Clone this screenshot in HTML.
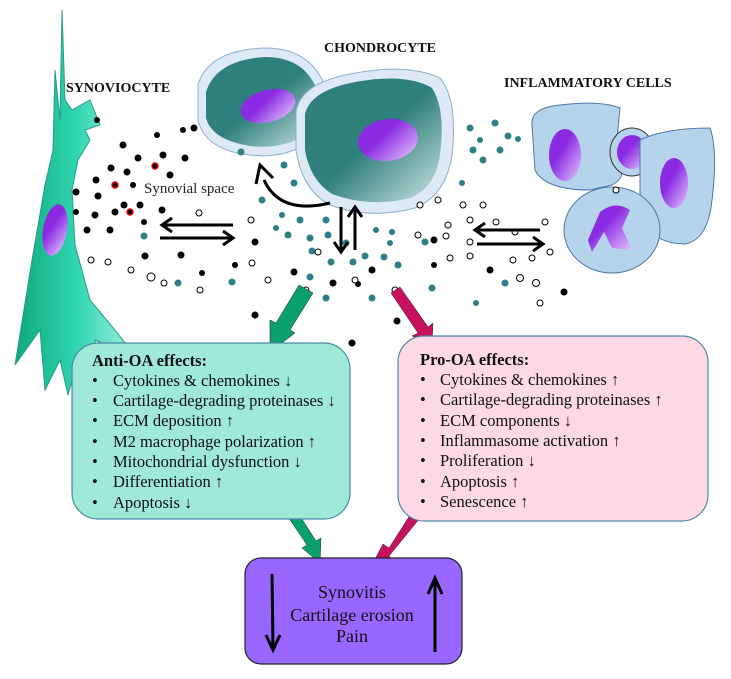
<!DOCTYPE html>
<html><head><meta charset="utf-8"><style>
html,body{margin:0;padding:0;background:#fff;}
svg{display:block;font-family:"Liberation Serif",serif;}
</style></head><body>
<svg width="731" height="679" viewBox="0 0 731 679" xmlns="http://www.w3.org/2000/svg">
<defs>
<linearGradient id="syn" x1="0" y1="0" x2="1" y2="0"><stop offset="0" stop-color="#0fa878"/><stop offset="0.5" stop-color="#2fd6b0"/><stop offset="1" stop-color="#a8f0e2"/></linearGradient>
<linearGradient id="teal" x1="0" y1="0" x2="1" y2="1"><stop offset="0.5" stop-color="#2f7f7c"/><stop offset="1" stop-color="#cfe6e4"/></linearGradient>
<linearGradient id="nuc" x1="0" y1="0" x2="1" y2="1"><stop offset="0.4" stop-color="#8a2be2"/><stop offset="1" stop-color="#e6c8ff"/></linearGradient>
</defs>
<!-- synoviocyte -->
<path d="M62 10 L60 120 L55 70 L53 150 L45 185 L32 260 L15 365 L40 330 L45 390 L60 360 L68 395 L78 360 L100 392 L95 340 L138 360 L115 330 L90 300 L75 245 L72 190 L78 160 L90 140 L85 130 L100 125 L90 100 L72 110 L65 100 Z" fill="url(#syn)" stroke="#2a9a8a" stroke-width="1"/>
<ellipse cx="55" cy="230" rx="12" ry="26" fill="url(#nuc)" transform="rotate(10 55 230)"/>
<!-- chondrocytes -->
<path d="M198 85 Q208 50 265 48 Q315 48 328 95 L318 135 Q290 160 250 155 Q205 150 198 120 Z" fill="#dde9f5" stroke="#8ab0d0"/>
<path d="M206 92 Q216 60 265 57 Q310 57 320 100 L310 132 Q285 150 250 146 Q212 140 206 118 Z" fill="url(#teal)"/>
<ellipse cx="268" cy="106" rx="28" ry="16" fill="url(#nuc)" transform="rotate(-15 268 106)"/>
<path d="M296 112 Q300 85 345 75 Q405 62 440 78 Q458 100 452 155 Q446 195 415 208 Q370 220 330 205 Q302 190 296 150 Z" fill="#dde9f5" stroke="#8ab0d0"/>
<path d="M305 114 Q310 92 350 83 Q405 72 432 88 Q446 110 440 155 Q435 188 410 198 Q370 208 332 194 Q310 180 305 150 Z" fill="url(#teal)"/>
<ellipse cx="388" cy="140" rx="30" ry="21" fill="url(#nuc)" transform="rotate(-8 388 140)"/>
<!-- inflammatory cells -->
<path d="M532 125 Q530 108 560 105 Q600 100 620 108 L615 160 Q630 175 612 185 L590 190 Q545 190 535 170 Z" fill="#b5d4ec" stroke="#4a78a8"/>
<ellipse cx="565" cy="155" rx="16" ry="26" fill="url(#nuc)"/>
<ellipse cx="632" cy="152" rx="22" ry="24" fill="#b5d4ec" stroke="#333"/>
<ellipse cx="632" cy="152" rx="15" ry="17" fill="url(#nuc)"/>
<path d="M640 140 Q665 128 710 128 Q718 150 712 200 Q708 240 685 244 Q655 244 640 220 Z" fill="#b5d4ec" stroke="#4a78a8"/>
<ellipse cx="674" cy="183" rx="14" ry="25" fill="url(#nuc)"/>
<ellipse cx="612" cy="230" rx="48" ry="43" fill="#b5d4ec" stroke="#4a78a8"/>
<path d="M600 212 Q615 200 630 210 L622 228 L632 250 L612 248 L604 232 L592 252 L588 240 Z" fill="url(#nuc)"/>
<!-- particles -->
<g fill="#000">
<circle cx="97" cy="120" r="3"/><circle cx="124" cy="205" r="3.5"/><circle cx="140" cy="205" r="3.5"/><circle cx="157" cy="135" r="3"/><circle cx="183" cy="130" r="3"/><circle cx="194" cy="128" r="3.5"/><circle cx="123" cy="145" r="3.5"/><circle cx="138" cy="158" r="3.5"/><circle cx="163" cy="155" r="3.5"/><circle cx="185" cy="158" r="3.5"/><circle cx="111" cy="168" r="3.5"/><circle cx="127" cy="172" r="3.5"/><circle cx="170" cy="175" r="3.5"/><circle cx="96" cy="180" r="3.5"/><circle cx="98" cy="196" r="3.5"/><circle cx="133" cy="185" r="3"/><circle cx="76" cy="192" r="3.5"/><circle cx="76" cy="212" r="3"/><circle cx="95" cy="215" r="3.5"/><circle cx="115" cy="212" r="3.5"/><circle cx="162" cy="210" r="3.5"/><circle cx="87" cy="230" r="3.5"/><circle cx="110" cy="230" r="3.5"/><circle cx="144" cy="222" r="3"/><circle cx="145" cy="256" r="3.5"/><circle cx="181" cy="255" r="3.5"/><circle cx="235" cy="265" r="3"/><circle cx="202" cy="273" r="3"/><circle cx="255" cy="242" r="3.5"/><circle cx="294" cy="272" r="3.5"/><circle cx="333" cy="283" r="3.5"/><circle cx="372" cy="270" r="3.5"/><circle cx="434" cy="265" r="3"/><circle cx="434" cy="240" r="3.5"/><circle cx="490" cy="270" r="3.5"/><circle cx="564" cy="292" r="3.5"/><circle cx="255" cy="315" r="3.5"/><circle cx="358" cy="284" r="3"/><circle cx="397" cy="321" r="3.5"/><circle cx="352" cy="343" r="3.5"/>
</g>
<g fill="#000" stroke="#e00" stroke-width="1.5"><circle cx="155" cy="166" r="3"/><circle cx="115" cy="185" r="3"/><circle cx="130" cy="212" r="3"/></g>
<g fill="#2f7f8a">
<circle cx="241" cy="152" r="3.5"/><circle cx="284" cy="165" r="3.5"/><circle cx="294" cy="183" r="3.5"/><circle cx="262" cy="200" r="3.5"/><circle cx="282" cy="215" r="3"/><circle cx="300" cy="220" r="3.5"/><circle cx="326" cy="220" r="3.5"/><circle cx="144" cy="236" r="3.5"/><circle cx="276" cy="228" r="3"/><circle cx="288" cy="235" r="3.5"/><circle cx="310" cy="238" r="3.5"/><circle cx="328" cy="235" r="3.5"/><circle cx="346" cy="243" r="3.5"/><circle cx="312" cy="251" r="3.5"/><circle cx="331" cy="262" r="3.5"/><circle cx="353" cy="262" r="3.5"/><circle cx="365" cy="256" r="3.5"/><circle cx="384" cy="257" r="3.5"/><circle cx="398" cy="265" r="3.5"/><circle cx="372" cy="298" r="3.5"/><circle cx="326" cy="298" r="3.5"/><circle cx="178" cy="283" r="3.5"/><circle cx="232" cy="282" r="3.5"/><circle cx="310" cy="277" r="3.5"/><circle cx="376" cy="230" r="3"/><circle cx="392" cy="232" r="3"/><circle cx="390" cy="243" r="3"/><circle cx="462" cy="183" r="3"/><circle cx="470" cy="128" r="3.5"/><circle cx="480" cy="140" r="3"/><circle cx="495" cy="123" r="3.5"/><circle cx="508" cy="136" r="3.5"/><circle cx="518" cy="139" r="3"/><circle cx="473" cy="150" r="3.5"/><circle cx="500" cy="150" r="3.5"/><circle cx="483" cy="160" r="3.5"/><circle cx="425" cy="242" r="3.5"/><circle cx="432" cy="288" r="3.5"/><circle cx="505" cy="283" r="3.5"/><circle cx="476" cy="303" r="3"/>
</g>
<g fill="#fff" stroke="#000" stroke-width="1">
<circle cx="91" cy="260" r="3"/><circle cx="108" cy="262" r="3"/><circle cx="131" cy="270" r="3"/><circle cx="151" cy="277" r="4"/><circle cx="199" cy="213" r="3"/><circle cx="251" cy="220" r="3"/><circle cx="164" cy="283" r="3"/><circle cx="200" cy="290" r="3"/><circle cx="252" cy="263" r="3"/><circle cx="268" cy="280" r="3"/><circle cx="318" cy="252" r="3"/><circle cx="355" cy="280" r="3"/><circle cx="306" cy="290" r="3"/><circle cx="395" cy="290" r="3"/><circle cx="420" cy="205" r="3"/><circle cx="438" cy="200" r="3"/><circle cx="463" cy="205" r="3"/><circle cx="483" cy="205" r="3"/><circle cx="448" cy="225" r="3"/><circle cx="470" cy="220" r="3"/><circle cx="496" cy="222" r="3"/><circle cx="515" cy="232" r="3"/><circle cx="545" cy="222" r="3"/><circle cx="513" cy="260" r="3"/><circle cx="450" cy="258" r="3"/><circle cx="470" cy="256" r="3"/><circle cx="470" cy="242" r="3"/><circle cx="418" cy="235" r="3"/><circle cx="446" cy="236" r="3"/><circle cx="532" cy="258" r="3"/><circle cx="550" cy="252" r="3"/><circle cx="520" cy="278" r="3.5"/><circle cx="536" cy="283" r="3.5"/><circle cx="540" cy="303" r="3"/><circle cx="616" cy="190" r="3"/>
</g>
<!-- text labels -->
<g font-weight="bold" font-size="14" fill="#111">
<text x="324" y="52">CHONDROCYTE</text>
<text x="66" y="92">SYNOVIOCYTE</text>
<text x="504" y="87">INFLAMMATORY CELLS</text>
</g>
<text x="144" y="193" font-size="15" fill="#222">Synovial space</text>
<!-- black arrows -->
<g stroke="#000" stroke-width="3" fill="none">
<path d="M233 225 L165 225 M172 218 L162 225 L172 232"/>
<path d="M160 238 L230 238 M223 231 L233 238 L223 245"/>
<path d="M540 230 L478 230 M485 223 L475 230 L485 237"/>
<path d="M477 244 L540 244 M533 237 L543 244 L533 251"/>
<path d="M341 207 L341 250 M334 242 L341 252 L348 242"/>
<path d="M355 250 L355 209 M348 217 L355 207 L362 217"/>
<path d="M330 203 Q280 215 264 180 M256 184 L260 165 L273 178"/>
</g>
<!-- colored arrows -->
<path d="M313 293 L290 330 L295 333 L270 352 L270 320 L276 323 L299 285 Z" fill="#0aa06e" stroke="#222" stroke-width="0.5"/>
<path d="M400 287 L428 327 L433 323 L432 343 L412 336 L418 333 L391 293 Z" fill="#c8105e" stroke="#222" stroke-width="0.5"/>
<path d="M282 508 L307 545 L302 548 L320 563 L321 538 L316 541 L291 502 Z" fill="#0aa06e" stroke="#222" stroke-width="0.5"/>
<path d="M412 512 L389 548 L383 544 L371 567 L393 560 L389 556 L420 518 Z" fill="#c8105e" stroke="#222" stroke-width="0.5"/>
<!-- boxes -->
<rect x="72" y="343" width="278" height="176" rx="26" fill="#a0e8d8" stroke="#4a88a8" stroke-width="1.2"/>
<rect x="398" y="336" width="310" height="185" rx="26" fill="#fcd9e4" stroke="#4a88a8" stroke-width="1.2"/>
<rect x="245" y="558" width="217" height="106" rx="16" fill="#9966ff" stroke="#222" stroke-width="1.2"/>
<g font-size="16.5" fill="#111">
<text x="92" y="366" font-weight="bold">Anti-OA effects:</text>
<text x="92" y="386">•<tspan x="113">Cytokines &amp; chemokines ↓</tspan></text>
<text x="92" y="406">•<tspan x="113">Cartilage-degrading proteinases ↓</tspan></text>
<text x="92" y="426">•<tspan x="113">ECM deposition ↑</tspan></text>
<text x="92" y="447">•<tspan x="113">M2 macrophage polarization ↑</tspan></text>
<text x="92" y="467">•<tspan x="113">Mitochondrial dysfunction ↓</tspan></text>
<text x="92" y="487">•<tspan x="113">Differentiation ↑</tspan></text>
<text x="92" y="508">•<tspan x="113">Apoptosis ↓</tspan></text>
<text x="420" y="365" font-weight="bold">Pro-OA effects:</text>
<text x="420" y="385">•<tspan x="440">Cytokines &amp; chemokines ↑</tspan></text>
<text x="420" y="405">•<tspan x="440">Cartilage-degrading proteinases ↑</tspan></text>
<text x="420" y="426">•<tspan x="440">ECM components ↓</tspan></text>
<text x="420" y="446">•<tspan x="440">Inflammasome activation ↑</tspan></text>
<text x="420" y="466">•<tspan x="440">Proliferation ↓</tspan></text>
<text x="420" y="487">•<tspan x="440">Apoptosis ↑</tspan></text>
<text x="420" y="507">•<tspan x="440">Senescence ↑</tspan></text>
</g>
<g font-size="18" fill="#111" text-anchor="middle">
<text x="352" y="598">Synovitis</text>
<text x="352" y="621">Cartilage erosion</text>
<text x="352" y="642">Pain</text>
</g>
<g stroke="#000" stroke-width="3" fill="none">
<path d="M272 574 L273 648 M266 635 L273 650 L280 635"/>
<path d="M435 652 L435 580 M428 594 L435 578 L442 594"/>
</g>
</svg>
</body></html>
